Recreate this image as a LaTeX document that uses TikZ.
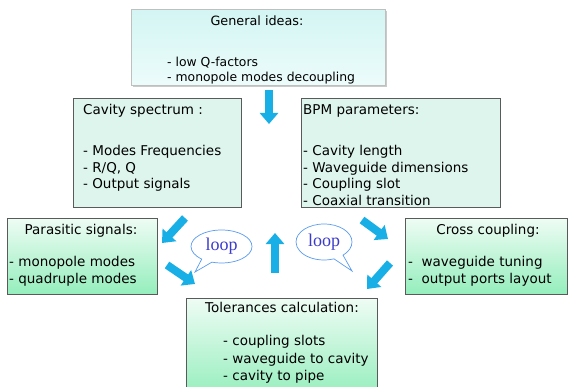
\documentclass[tikz,border=0pt]{standalone}
\usepackage{fontspec}
\setmainfont{DejaVu Sans}
\newfontfamily\loopfont{Liberation Serif}
\usetikzlibrary{arrows.meta,shapes.callouts,shadows}
\definecolor{plainfill}{HTML}{DDF5EC}
\definecolor{gtop}{HTML}{EEFCF4}
\definecolor{gbot}{HTML}{94EEBC}
\definecolor{ctop}{HTML}{D3F5F3}
\definecolor{cbot}{HTML}{ECFCFB}
\definecolor{edgec}{HTML}{5A5A5A}
\definecolor{arrowc}{HTML}{18AEE6}
\definecolor{bubblec}{HTML}{5A9BF0}
\definecolor{loopc}{HTML}{3A3ACC}
\tikzset{
  boxbase/.style={rectangle, anchor=north west, inner sep=0pt},
  plainbox/.style={boxbase, draw=edgec, line width=0.8pt, fill=plainfill},
  gradbox/.style={boxbase, draw=edgec, line width=0.8pt, top color=gtop, bottom color=gbot},
  topbox/.style={boxbase, draw=black!25, line width=0.6pt, top color=ctop, bottom color=cbot,
     drop shadow={shadow xshift=1.5pt, shadow yshift=-1.5pt, fill=black!35, opacity=0.6}},
  txt/.style={font=\fontsize{13.5}{15}\selectfont, inner sep=0pt, text=black},
  smalltxt/.style={font=\fontsize{12.4}{14}\selectfont},
  gentitle/.style={font=\fontsize{12.8}{14}\selectfont},
  ltxt/.style={txt, anchor=mid west},
  ctxt/.style={txt, anchor=mid},
  fat/.style={draw=arrowc, line width=8pt, -{Triangle[width=18pt,length=11pt]}},
  bubble/.style={ellipse callout, draw=bubblec, line width=0.7pt, fill=white, inner sep=0pt,
     font=\loopfont\fontsize{18}{20}\selectfont, text=loopc, callout pointer arc=22}
}
\begin{document}
\begin{tikzpicture}[x=1pt,y=-1pt]
\useasboundingbox (0,0) rectangle (569,387);
\clip (0,0) rectangle (569,387);
% boxes
\node[topbox, minimum width=254pt, minimum height=76pt] (gen) at (131,9) {};
\node[plainbox, minimum width=168pt, minimum height=109pt] (cav) at (73,98) {};
\node[plainbox, minimum width=199pt, minimum height=109pt] (bpm) at (301,98) {};
\node[gradbox, minimum width=150pt, minimum height=76pt] (par) at (7,218) {};
\node[gradbox, minimum width=162pt, minimum height=76pt] (cro) at (405,218) {};
\node[gradbox, minimum width=191pt, minimum height=100pt] (tol) at (186,298) {};
% texts
\node[ctxt, gentitle] (gent) at (257,23) {General ideas:};
\node[ltxt, smalltxt] (gen1) at (167,63.5) {- low Q-factors};
\node[ltxt, smalltxt] (gen2) at (167,78.5) {- monopole modes decoupling};
\node[ltxt] (cavt) at (83,112) {Cavity spectrum :};
\node[ltxt] (cav1) at (83,153) {- Modes Frequencies};
\node[ltxt] (cav2) at (83,169.5) {- R/Q, Q};
\node[ltxt] (cav3) at (83,186) {- Output signals};
\node[ltxt] (bpmt) at (303,112) {BPM parameters:};
\node[ltxt] (bpm1) at (303,153) {- Cavity length};
\node[ltxt] (bpm2) at (303,169.5) {- Waveguide dimensions};
\node[ltxt] (bpm3) at (303,186) {- Coupling slot};
\node[ltxt] (bpm4) at (303,202.5) {- Coaxial transition};
\node[ctxt] (part) at (81,232) {Parasitic signals:};
\node[ltxt] (par1) at (9,264) {- monopole modes};
\node[ltxt] (par2) at (9,280.5) {- quadruple modes};
\node[ctxt] (crot) at (488,232) {Cross coupling:};
\node[ltxt] (cro1) at (408,264) {-\ \ waveguide tuning};
\node[ltxt] (cro2) at (408,280.5) {-\ \ output ports layout};
\node[ctxt] (tolt) at (282,310) {Tolerances calculation:};
\node[ltxt] (tol1) at (223,343) {- coupling slots};
\node[ltxt] (tol2) at (223,360.5) {- waveguide to cavity};
\node[ltxt] (tol3) at (223,378) {- cavity to pipe};
% loop bubbles
\node[bubble, minimum width=61pt, minimum height=33pt, callout absolute pointer={(195,272)}] (loopl) at (221.5,246.5) {loop};
\node[bubble, minimum width=56pt, minimum height=36pt, callout absolute pointer={(352,271)}] (loopr) at (324,242) {loop};
% arrow end points
\coordinate (a0s) at (269,90);  \coordinate (a0e) at (269,124);
\coordinate (a1s) at (185,218); \coordinate (a1e) at (162,243);
\coordinate (a2s) at (167,265); \coordinate (a2e) at (195,284);
\coordinate (a3s) at (362,220); \coordinate (a3e) at (388,239);
\coordinate (a4s) at (390,263); \coordinate (a4e) at (367,289);
\coordinate (a5s) at (275,273); \coordinate (a5e) at (275,233);
\draw[fat] (a0s) -- (a0e);
\draw[fat] (a1s) -- (a1e);
\draw[fat] (a2s) -- (a2e);
\draw[fat] (a3s) -- (a3e);
\draw[fat] (a4s) -- (a4e);
\draw[fat] (a5s) -- (a5e);
\end{tikzpicture}
\end{document}
